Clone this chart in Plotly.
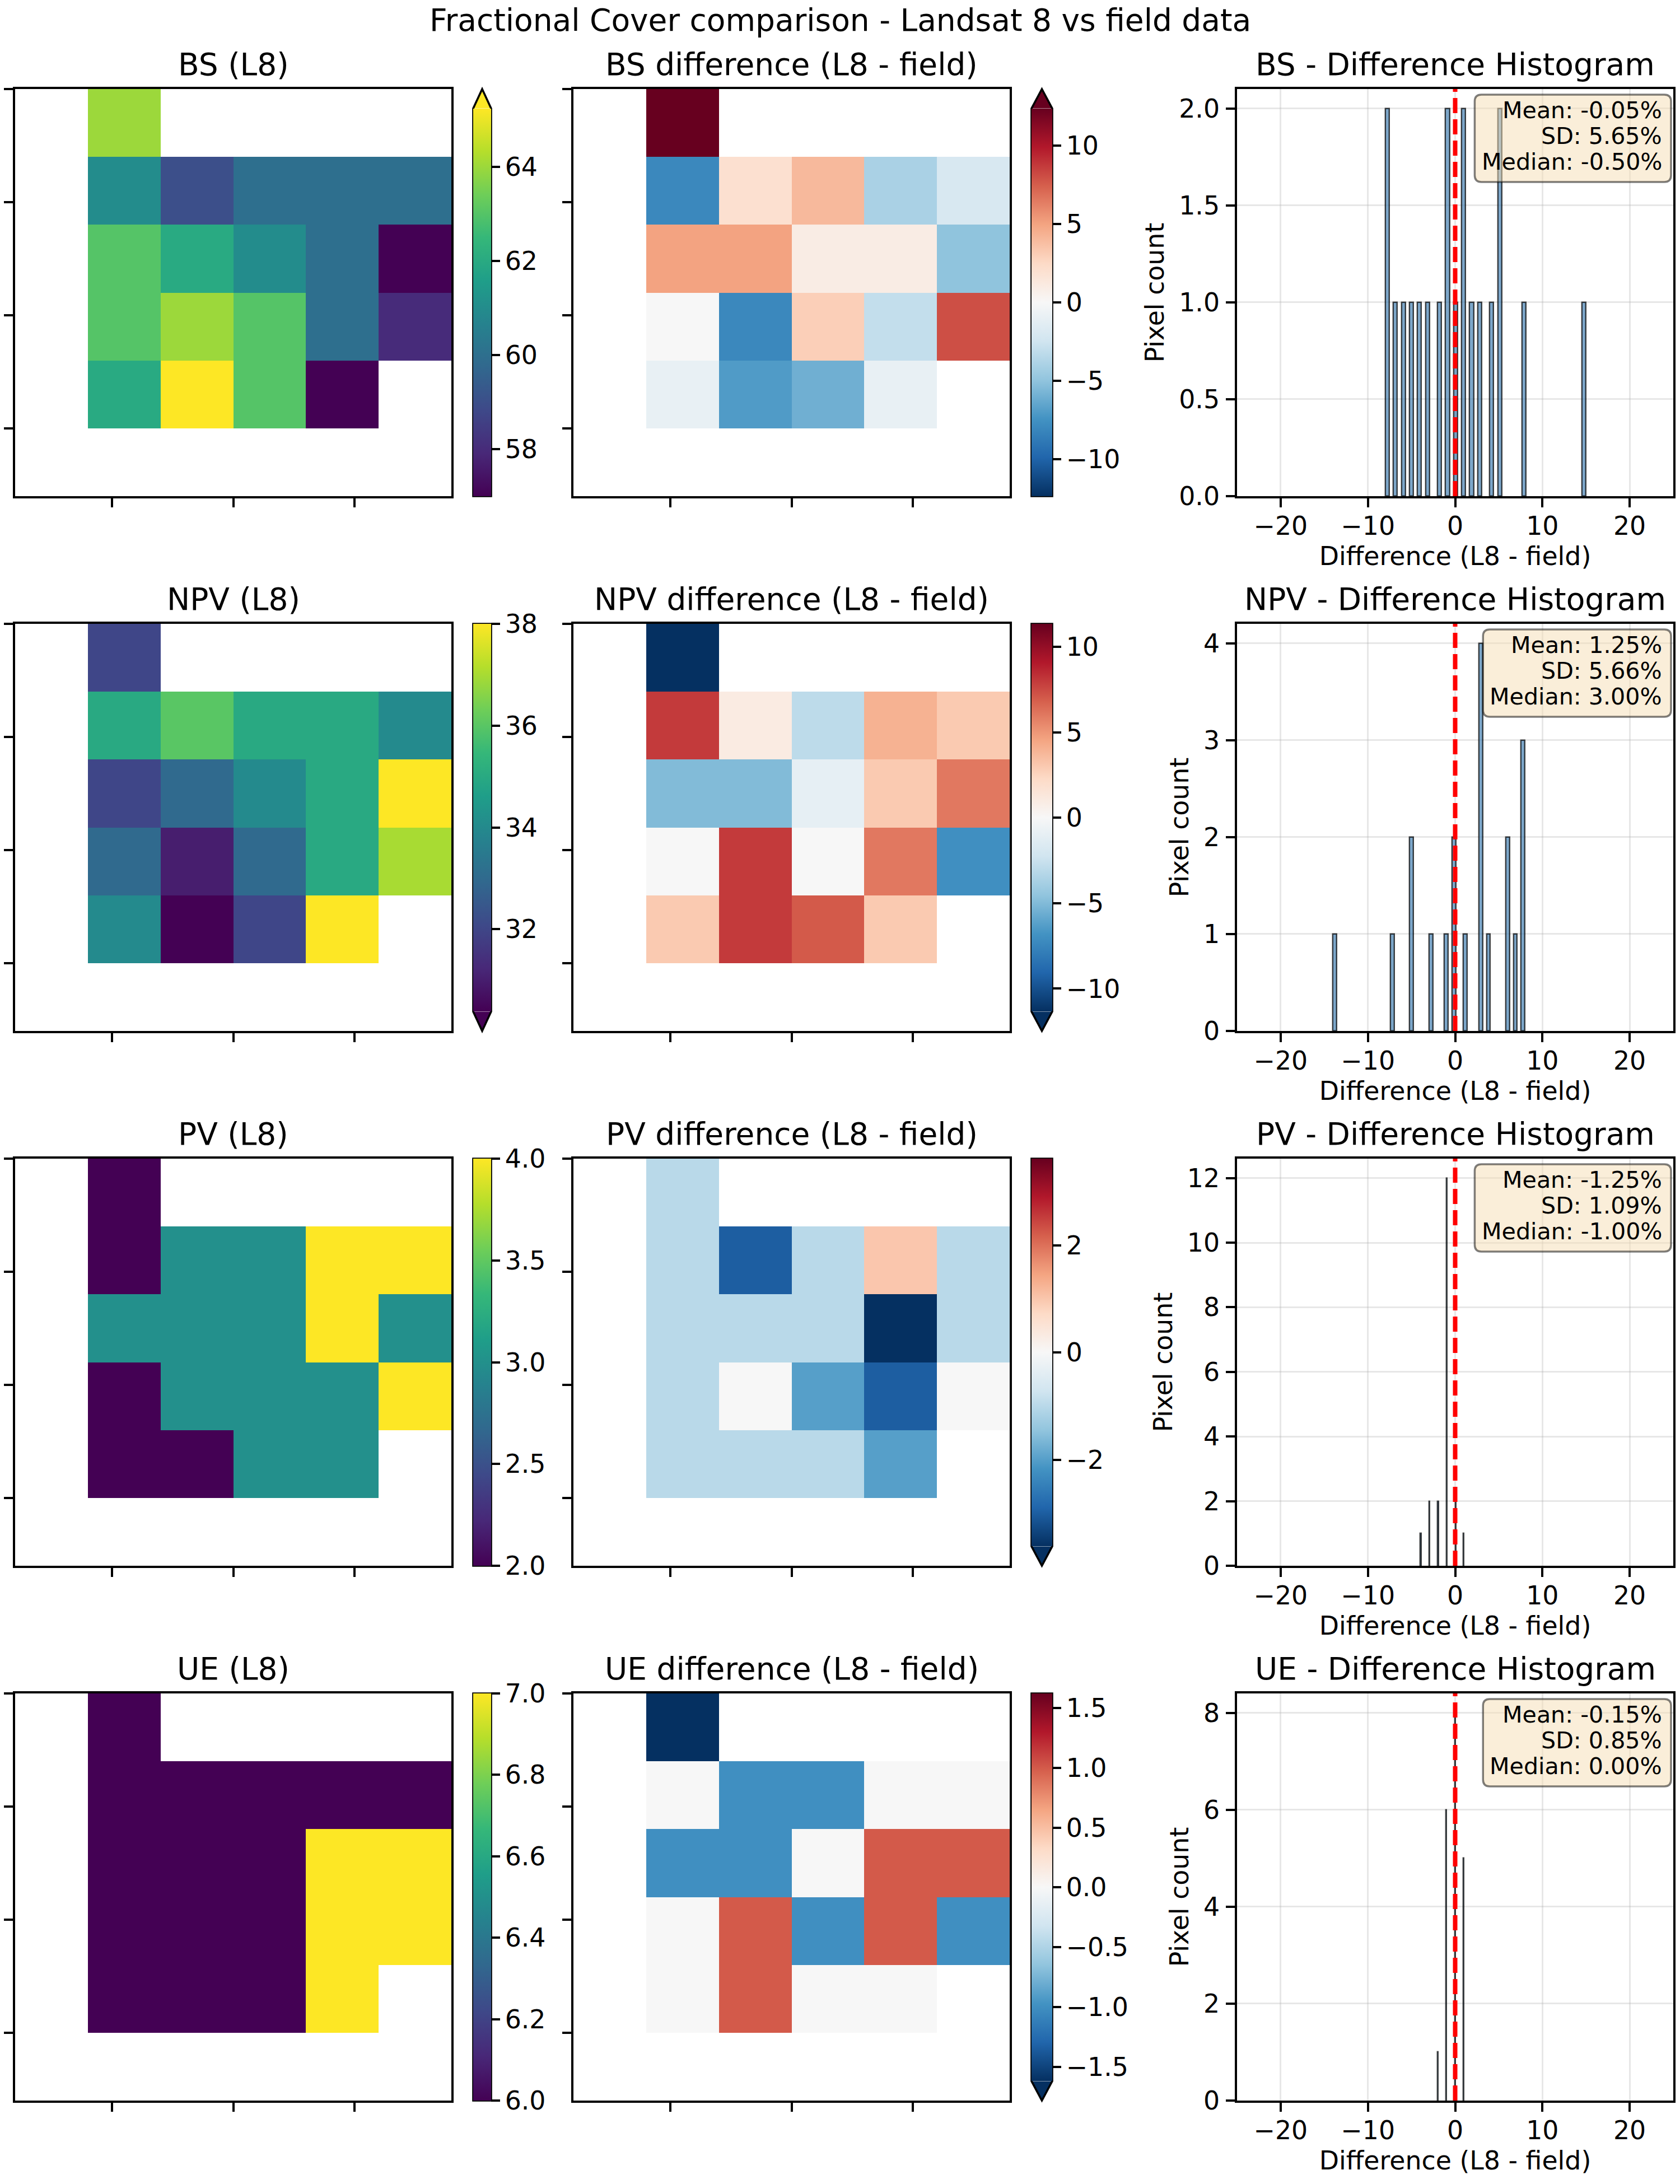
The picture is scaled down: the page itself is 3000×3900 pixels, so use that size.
import numpy as np
import plotly.graph_objects as go
import plotly.colors as pcolors

W, H = 3000, 3900
FONT = "DejaVu Sans"
N = None

# ---------------- data ----------------
categories = ["BS", "NPV", "PV", "UE"]

bs_l8 = [
    [N, 64, N, N, N, N],
    [N, 61, 59, 60, 60, 60],
    [N, 63, 62, 61, 60, 57],
    [N, 63, 64, 63, 60, 58],
    [N, 62, 66, 63, 57, N],
    [N, N, N, N, N, N],
]
bs_diff = [
    [N, 15, N, N, N, N],
    [N, -8, 2, 4, -4, -2],
    [N, 5, 5, 1, 1, -5],
    [N, 0, -8, 3, -3, 8],
    [N, -1, -7, -6, -1, N],
    [N, N, N, N, N, N],
]
npv_l8 = [
    [N, 32, N, N, N, N],
    [N, 35, 36, 35, 35, 34],
    [N, 32, 33, 34, 35, 38],
    [N, 33, 31, 33, 35, 37],
    [N, 34, 30, 32, 38, N],
    [N, N, N, N, N, N],
]
npv_diff = [
    [N, -14, N, N, N, N],
    [N, 8, 1, -3, 4, 3],
    [N, -5, -5, -1, 3, 6],
    [N, 0, 8, 0, 6, -7],
    [N, 3, 8, 7, 3, N],
    [N, N, N, N, N, N],
]
pv_l8 = [
    [N, 2, N, N, N, N],
    [N, 2, 3, 3, 4, 4],
    [N, 3, 3, 3, 4, 3],
    [N, 2, 3, 3, 3, 4],
    [N, 2, 2, 3, 3, N],
    [N, N, N, N, N, N],
]
pv_diff = [
    [N, -1, N, N, N, N],
    [N, -1, -3, -1, 1, -1],
    [N, -1, -1, -1, -4, -1],
    [N, -1, 0, -2, -3, 0],
    [N, -1, -1, -1, -2, N],
    [N, N, N, N, N, N],
]
ue_l8 = [
    [N, 6, N, N, N, N],
    [N, 6, 6, 6, 6, 6],
    [N, 6, 6, 6, 7, 7],
    [N, 6, 6, 6, 7, 7],
    [N, 6, 6, 6, 7, N],
    [N, N, N, N, N, N],
]
ue_diff = [
    [N, -2, N, N, N, N],
    [N, 0, -1, -1, 0, 0],
    [N, -1, -1, 0, 1, 1],
    [N, 0, 1, -1, 1, -1],
    [N, 0, 1, 0, 0, N],
    [N, N, N, N, N, N],
]

suptitle = "Fractional Cover comparison - Landsat 8 vs field data"
hist_xlabel = "Difference (L8 - field)"
hist_ylabel = "Pixel count"

map_xticks = [5 / 6, 2.5, 25 / 6]          # cell units (tick marks only, no labels)
map_yticks = [-0.5, 7 / 6, 17 / 6, 4.5]

l8_cbar_dtick = [2, 2, 0.5, 0.2]
l8_cbar_fmt = ["d", "d", ".1f", ".1f"]
diff_cbar_dtick = [5, 5, 2, 0.5]
diff_cbar_fmt = ["d", "d", "d", ".1f"]
hist_ydtick = [0.5, 1, 2, 2]
hist_yfmt = [".1f", "d", "d", "d"]
hist_xrange = [-25, 25]
hist_nbins = 50

l8_maps = [bs_l8, npv_l8, pv_l8, ue_l8]
diff_maps = [bs_diff, npv_diff, pv_diff, ue_diff]

# ---------------- geometry (pixels) ----------------
COL_HEAT = (27, 806)
COL_CB1 = (845, 877)
COL_DIFF = (1024, 1803)
COL_CB2 = (1842, 1879)
COL_HIST = (2209, 2988)
ROW_TOP0, ROW_H, ROW_STEP = 159, 727, 955

TICK = 45.8
TITLE = 55
STAT = 41.2
LW = 3.6
TL = 16

# approximate DejaVu Sans advance widths (em) used to size the stats box
DV_W = {"M": 0.863, "e": 0.615, "a": 0.613, "n": 0.634, ":": 0.337, " ": 0.318,
        "S": 0.635, "D": 0.770, "d": 0.635, "i": 0.278, "-": 0.361, ".": 0.318,
        "%": 0.950}


def text_w(s, size):
    return sum(DV_W.get(c, 0.636) for c in s) * size


def fx(px):
    return px / W


def fy(py):
    return 1 - py / H


def aname(kind, k):
    return kind if k == 1 else f"{kind}{k}"


viridis = pcolors.sequential.Viridis
rdbu_r = pcolors.diverging.RdBu[::-1]


def mkscale(cols):
    n = len(cols)
    return [[i / (n - 1), c] for i, c in enumerate(cols)]


fig = go.Figure()
layout = dict(
    width=W, height=H, margin=dict(l=0, r=0, t=0, b=0),
    template="none", paper_bgcolor="white", plot_bgcolor="white",
    showlegend=False, font=dict(family=FONT, size=TICK, color="black"),
    bargap=0,
)
shapes, annotations = [], []


def colorbar_decor(x0, x1, top, bot, ext_min, ext_max, col_lo, col_hi):
    """returns rect (top,bot) px of the colorbar body and adds triangles/outline"""
    n_ext = int(ext_min) + int(ext_max)
    L = (bot - top) / (1 + 0.05 * n_ext)
    th = 0.05 * L
    rt = top + (th if ext_max else 0)
    rb = bot - (th if ext_min else 0)
    xc = (x0 + x1) / 2
    pts = [(x0, rb)]
    if ext_min:
        pts.append((xc, bot))
    pts.append((x1, rb))
    pts.append((x1, rt))
    if ext_max:
        pts.append((xc, top))
    pts.append((x0, rt))
    if ext_max:
        shapes.append(dict(type="path", xref="paper", yref="paper", layer="above",
                           path=f"M {fx(x0)},{fy(rt)} L {fx(xc)},{fy(top)} L {fx(x1)},{fy(rt)} Z",
                           fillcolor=col_hi, line=dict(width=0)))
    if ext_min:
        shapes.append(dict(type="path", xref="paper", yref="paper", layer="above",
                           path=f"M {fx(x0)},{fy(rb)} L {fx(xc)},{fy(bot)} L {fx(x1)},{fy(rb)} Z",
                           fillcolor=col_lo, line=dict(width=0)))
    path = "M " + " L ".join(f"{fx(a)},{fy(b)}" for a, b in pts) + " Z"
    shapes.append(dict(type="path", xref="paper", yref="paper", layer="above",
                       path=path, fillcolor="rgba(0,0,0,0)", line=dict(color="black", width=LW)))
    return rt, rb


def rounded_box(x0, y0, x1, y1, rad):
    """rounded rectangle path in paper coords from pixel corners (y downward)"""
    segs = [
        (x0 + rad, y0), (x1 - rad, y0), ("Q", x1, y0, x1, y0 + rad),
        (x1, y1 - rad), ("Q", x1, y1, x1 - rad, y1), (x0 + rad, y1),
        ("Q", x0, y1, x0, y1 - rad), (x0, y0 + rad), ("Q", x0, y0, x0 + rad, y0),
    ]
    p = f"M {fx(segs[0][0])},{fy(segs[0][1])}"
    for s in segs[1:]:
        if s[0] == "Q":
            p += f" Q {fx(s[1])},{fy(s[2])} {fx(s[3])},{fy(s[4])}"
        else:
            p += f" L {fx(s[0])},{fy(s[1])}"
    return p + " Z"


def map_axes(k, xcols, top, bot):
    layout[aname("xaxis", k)] = dict(
        domain=[fx(xcols[0]), fx(xcols[1])], anchor=aname("y", k), range=[-0.5, 5.5],
        showgrid=False, zeroline=False, showline=True, mirror=True, linecolor="black",
        linewidth=LW, ticks="outside", ticklen=TL, tickwidth=LW, tickcolor="black",
        tickmode="array", tickvals=map_xticks, showticklabels=False, fixedrange=True)
    layout[aname("yaxis", k)] = dict(
        domain=[fy(bot), fy(top)], anchor=aname("x", k), range=[5.5, -0.5],
        showgrid=False, zeroline=False, showline=True, mirror=True, linecolor="black",
        linewidth=LW, ticks="outside", ticklen=TL, tickwidth=LW, tickcolor="black",
        tickmode="array", tickvals=map_yticks, showticklabels=False, fixedrange=True)


def add_title(k, text):
    annotations.append(dict(
        xref=f"{aname('x', k)} domain", yref=f"{aname('y', k)} domain", x=0.5, y=1,
        xanchor="center", yanchor="bottom", yshift=10, showarrow=False, text=text,
        font=dict(family=FONT, size=TITLE, color="black")))


for r, cat in enumerate(categories):
    top = ROW_TOP0 + r * ROW_STEP
    bot = top + ROW_H
    k1, k2, k3 = 3 * r + 1, 3 * r + 2, 3 * r + 3

    # ---- L8 map ----
    grid = l8_maps[r]
    arr = np.array(grid, dtype=float)
    vals = arr[~np.isnan(arr)]
    vmin, vmax = np.percentile(vals, 2), np.percentile(vals, 98)
    ext_min, ext_max = vals.min() < vmin, vals.max() > vmax
    rt, rb = colorbar_decor(COL_CB1[0], COL_CB1[1], top, bot, ext_min, ext_max, viridis[0], viridis[-1])
    map_axes(k1, COL_HEAT, top, bot)
    fig.add_trace(go.Heatmap(
        z=grid, x=list(range(6)), y=list(range(6)), zmin=vmin, zmax=vmax,
        colorscale=mkscale(viridis), xaxis=aname("x", k1), yaxis=aname("y", k1),
        hoverongaps=False,
        colorbar=dict(x=fx(COL_CB1[0]), xanchor="left", xpad=0, ypad=0,
                      y=fy(rb), yanchor="bottom", len=(rb - rt) / H, lenmode="fraction",
                      thickness=COL_CB1[1] - COL_CB1[0], thicknessmode="pixels",
                      outlinewidth=0, ticks="outside", ticklen=TL, tickwidth=LW,
                      tickcolor="black", tickmode="linear", tick0=0, dtick=l8_cbar_dtick[r],
                      tickformat=l8_cbar_fmt[r],
                      tickfont=dict(family=FONT, size=TICK, color="black"))))
    add_title(k1, f"{cat} (L8)")

    # ---- difference map ----
    grid = diff_maps[r]
    arr = np.array(grid, dtype=float)
    dvals = arr[~np.isnan(arr)]
    lim = max(abs(np.percentile(dvals, 2)), abs(np.percentile(dvals, 98)))
    ext_min, ext_max = dvals.min() < -lim, dvals.max() > lim
    rt, rb = colorbar_decor(COL_CB2[0], COL_CB2[1], top, bot, ext_min, ext_max, rdbu_r[0], rdbu_r[-1])
    map_axes(k2, COL_DIFF, top, bot)
    fig.add_trace(go.Heatmap(
        z=grid, x=list(range(6)), y=list(range(6)), zmin=-lim, zmax=lim,
        colorscale=mkscale(rdbu_r), xaxis=aname("x", k2), yaxis=aname("y", k2),
        hoverongaps=False,
        colorbar=dict(x=fx(COL_CB2[0]), xanchor="left", xpad=0, ypad=0,
                      y=fy(rb), yanchor="bottom", len=(rb - rt) / H, lenmode="fraction",
                      thickness=COL_CB2[1] - COL_CB2[0], thicknessmode="pixels",
                      outlinewidth=0, ticks="outside", ticklen=TL, tickwidth=LW,
                      tickcolor="black", tickmode="linear", tick0=0, dtick=diff_cbar_dtick[r],
                      tickformat=diff_cbar_fmt[r],
                      tickfont=dict(family=FONT, size=TICK, color="black"))))
    add_title(k2, f"{cat} difference (L8 - field)")

    # ---- histogram ----
    counts, edges = np.histogram(dvals, bins=hist_nbins)
    centers = (edges[:-1] + edges[1:]) / 2
    bw = edges[1] - edges[0]
    m = counts > 0
    fig.add_trace(go.Bar(
        x=centers[m], y=counts[m], width=bw, xaxis=aname("x", k3), yaxis=aname("y", k3),
        marker=dict(color="rgba(70,130,180,0.7)", line=dict(color="rgba(0,0,0,0.72)", width=2.4))))
    layout[aname("xaxis", k3)] = dict(
        domain=[fx(COL_HIST[0]), fx(COL_HIST[1])], anchor=aname("y", k3), range=hist_xrange,
        tickmode="linear", tick0=0, dtick=10, ticks="outside", ticklen=TL, tickwidth=LW,
        tickcolor="black", showline=True, mirror=True, linecolor="black", linewidth=LW,
        showgrid=True, gridcolor="rgba(176,176,176,0.3)", gridwidth=3, zeroline=False,
        tickfont=dict(family=FONT, size=TICK, color="black"), ticklabelstandoff=-6,
        title=dict(text=hist_xlabel, font=dict(family=FONT, size=TICK, color="black"), standoff=12))
    layout[aname("yaxis", k3)] = dict(
        domain=[fy(bot), fy(top)], anchor=aname("x", k3), range=[0, counts.max() * 1.05],
        tickmode="linear", tick0=0, dtick=hist_ydtick[r], tickformat=hist_yfmt[r],
        ticks="outside", ticklen=TL, tickwidth=LW,
        tickcolor="black", showline=True, mirror=True, linecolor="black", linewidth=LW,
        showgrid=True, gridcolor="rgba(176,176,176,0.3)", gridwidth=3, zeroline=False,
        tickfont=dict(family=FONT, size=TICK, color="black"), ticklabelstandoff=2,
        title=dict(text=hist_ylabel, font=dict(family=FONT, size=TICK, color="black"), standoff=13))
    shapes.append(dict(type="line", xref=aname("x", k3), yref=f"{aname('y', k3)} domain",
                       x0=0, x1=0, y0=0, y1=1, layer="above",
                       line=dict(color="red", width=8, dash="27px,11px")))
    add_title(k3, f"{cat} - Difference Histogram")

    # ---- statistics box ----
    mean, sd, med = dvals.mean(), dvals.std(), np.median(dvals)
    lines = [f"Mean: {mean:.2f}%", f"SD: {sd:.2f}%", f"Median: {med:.2f}%"]
    text_right = COL_HIST[1] - 18
    tw = max(text_w(s, STAT) for s in lines)
    bx0, bx1 = text_right - tw - 14, COL_HIST[1] - 4
    by0, by1 = top + 10, top + 166
    shapes.append(dict(type="path", xref="paper", yref="paper", layer="above",
                       path=rounded_box(bx0, by0, bx1, by1, 12),
                       fillcolor="rgba(245,222,179,0.5)",
                       line=dict(color="rgba(0,0,0,0.5)", width=3.5)))
    for i, s in enumerate(lines):
        baseline = top + 52 + 46 * i
        annotations.append(dict(
            xref="paper", yref="paper", x=fx(text_right), y=fy(baseline - 14.3),
            xanchor="right", yanchor="middle", align="right", showarrow=False, text=s,
            font=dict(family=FONT, size=STAT, color="black")))

annotations.append(dict(xref="paper", yref="paper", x=0.5, y=fy(36), xanchor="center",
                        yanchor="middle", showarrow=False, text=suptitle,
                        font=dict(family=FONT, size=TITLE, color="black")))

layout["shapes"] = shapes
layout["annotations"] = annotations
fig.update_layout(**layout)
fig.write_html("out.html")
